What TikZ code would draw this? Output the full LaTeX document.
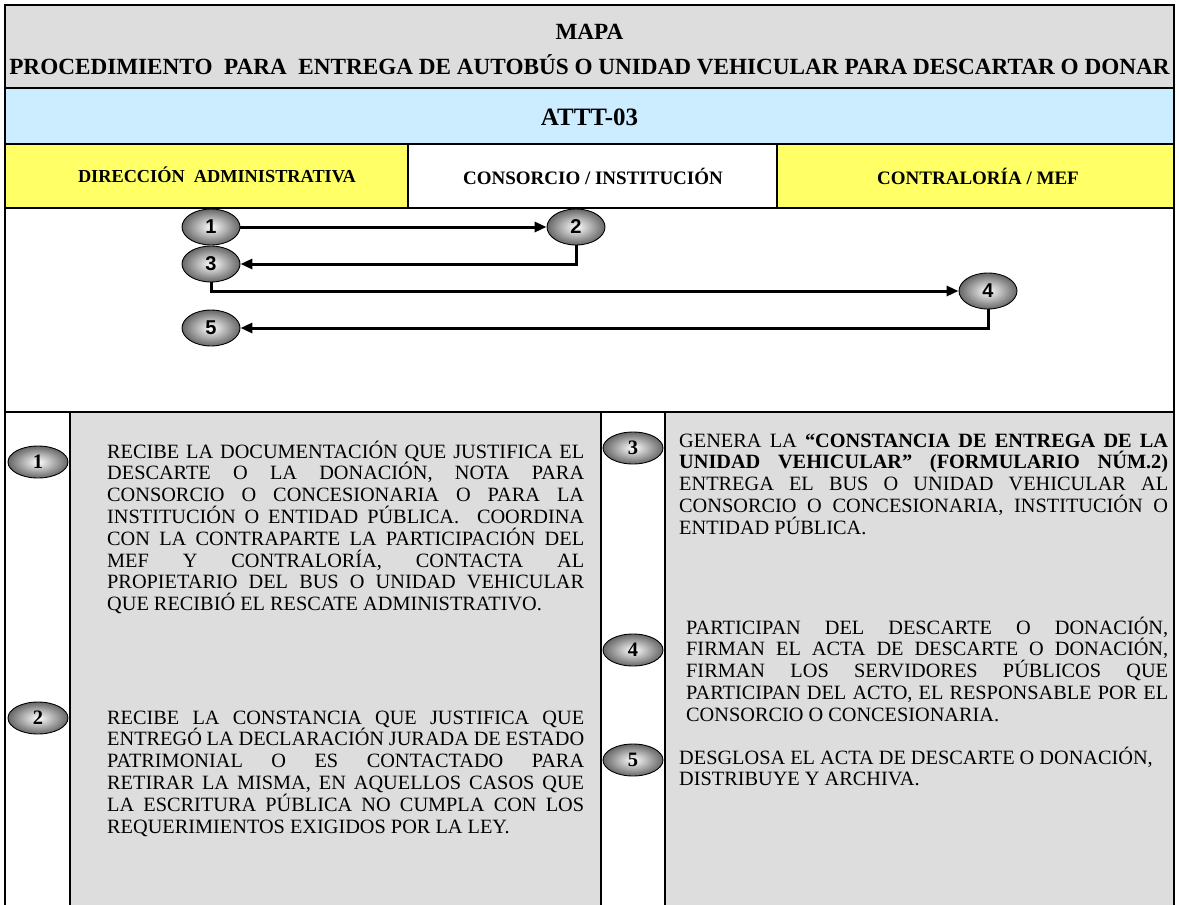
\documentclass[tikz,border=0pt]{standalone}
\usepackage{fontspec}
\setmainfont{Liberation Serif}
\newfontfamily\arialfont{Liberation Sans}
\usetikzlibrary{shapes.geometric,arrows.meta}
\definecolor{hdrgray}{HTML}{DDDDDD}
\definecolor{bandblue}{HTML}{CCECFF}
\definecolor{laneyellow}{HTML}{FFFF66}
\definecolor{ovalgray}{HTML}{666666}
\begin{document}
\begin{tikzpicture}[x=1pt,y=-1pt,
  frame/.style={line width=1.2pt, draw=black},
  flowoval/.style={ellipse, draw=black, line width=0.9pt, minimum width=58pt, minimum height=36pt, inner sep=0pt, inner color=white, outer color=ovalgray, font=\arialfont\bfseries\fontsize{20}{20}\selectfont},
  stepoval/.style={ellipse, draw=black, line width=0.9pt, minimum width=60pt, minimum height=32pt, inner sep=0pt, inner color=white, outer color=ovalgray, font=\bfseries\fontsize{20.5}{20.5}\selectfont},
  flowarrow/.style={line width=3pt, -{Triangle[length=12pt,width=10pt]}},
  body/.style={anchor=base west, inner sep=0pt, font=\fontsize{20.3}{21.8}\selectfont},
  hdr/.style={font=\bfseries\fontsize{23.2}{23.2}\selectfont, inner sep=0pt},
  lane/.style={font=\bfseries\fontsize{19}{19}\selectfont, inner sep=0pt},
]
\useasboundingbox (0,0) rectangle (1179,905);
% fills
\fill[hdrgray] (5,5) rectangle (1174,88);
\fill[bandblue] (5,88) rectangle (1174,144);
\fill[laneyellow] (5,144) rectangle (408,208);
\fill[laneyellow] (777,144) rectangle (1174,208);
\fill[hdrgray] (70,412) rectangle (601,905);
\fill[hdrgray] (665,412) rectangle (1174,905);
% grid lines
\draw[frame] (5,905) -- (5,5) -- (1174,5) -- (1174,905);
\draw[frame] (5,88) -- (1174,88);
\draw[frame] (5,144) -- (1174,144);
\draw[frame] (5,208) -- (1174,208);
\draw[frame] (5,412) -- (1174,412);
\draw[frame] (408,144) -- (408,208);
\draw[frame] (777,144) -- (777,208);
\draw[frame] (70,412) -- (70,905);
\draw[frame] (601,412) -- (601,905);
\draw[frame] (665,412) -- (665,905);
% headers
\node[hdr] (mapa) at (589.5,32) {MAPA};
\node[hdr] (titulo) at (589.5,65) {PROCEDIMIENTO\ \ PARA\ \ ENTREGA DE AUTOBÚS O UNIDAD VEHICULAR PARA DESCARTAR O DONAR};
\node[hdr, font=\bfseries\fontsize{25}{25}\selectfont] (codigo) at (589.5,117) {ATTT-03};
\node[lane, font=\bfseries\fontsize{18.3}{18.3}\selectfont] (laneA) at (217,175) {DIRECCIÓN\ \ ADMINISTRATIVA};
\node[lane] (laneB) at (593,176) {CONSORCIO / INSTITUCIÓN};
\node[lane] (laneC) at (978,176) {CONTRALORÍA / MEF};
% flow
\node[flowoval] (o1) at (211,227) {1};
\node[flowoval] (o2) at (576,227) {2};
\node[flowoval] (o3) at (211,264) {3};
\node[flowoval] (o4) at (988,291) {4};
\node[flowoval] (o5) at (211,328) {5};
\draw[flowarrow] (o1) -- (o2);
\draw[flowarrow] (o2.south) |- (o3.east);
\draw[flowarrow] (o3.south) |- (o4.west);
\draw[flowarrow] (o4.south) |- (o5.east);
% step ovals
\node[stepoval] (s1) at (38,462) {1};
\node[stepoval] (s2) at (38,718) {2};
\node[stepoval] (s3) at (633,448) {3};
\node[stepoval] (s4) at (633,650) {4};
\node[stepoval] (s5) at (633,760) {5};
% step texts
\node[body] (t1) at (107,458) {\parbox[t]{477pt}{RECIBE LA DOCUMENTACIÓN QUE JUSTIFICA EL\linebreak
DESCARTE O LA DONACIÓN, NOTA PARA\linebreak
CONSORCIO O CONCESIONARIA O PARA LA\linebreak
INSTITUCIÓN O ENTIDAD PÚBLICA.\ \ COORDINA\linebreak
CON LA CONTRAPARTE LA PARTICIPACIÓN DEL\linebreak
MEF Y CONTRALORÍA, CONTACTA AL\linebreak
PROPIETARIO DEL BUS O UNIDAD VEHICULAR\linebreak
QUE RECIBIÓ EL RESCATE ADMINISTRATIVO.}};
\node[body] (t2) at (107,724) {\parbox[t]{477pt}{RECIBE LA CONSTANCIA QUE JUSTIFICA QUE\linebreak
ENTREGÓ LA DECLARACIÓN JURADA DE ESTADO\linebreak
PATRIMONIAL O ES CONTACTADO PARA\linebreak
RETIRAR LA MISMA, EN AQUELLOS CASOS QUE\linebreak
LA ESCRITURA PÚBLICA NO CUMPLA CON LOS\linebreak
REQUERIMIENTOS EXIGIDOS POR LA LEY.}};
\node[body] (t3) at (679,447) {\parbox[t]{489pt}{GENERA LA \textbf{“CONSTANCIA DE ENTREGA DE LA\linebreak
UNIDAD VEHICULAR” (FORMULARIO NÚM.2)}\linebreak
ENTREGA EL BUS O UNIDAD VEHICULAR AL\linebreak
CONSORCIO O CONCESIONARIA, INSTITUCIÓN O\linebreak
ENTIDAD PÚBLICA.}};
\node[body] (t4) at (686,634) {\parbox[t]{482pt}{PARTICIPAN DEL DESCARTE O DONACIÓN,\linebreak
FIRMAN EL ACTA DE DESCARTE O DONACIÓN,\linebreak
FIRMAN LOS SERVIDORES PÚBLICOS QUE\linebreak
PARTICIPAN DEL ACTO, EL RESPONSABLE POR EL\linebreak
CONSORCIO O CONCESIONARIA.}};
\node[body] (t5) at (679,764) {\parbox[t]{489pt}{\raggedright DESGLOSA EL ACTA DE DESCARTE O DONACIÓN,\\
DISTRIBUYE Y ARCHIVA.}};
\end{tikzpicture}
\end{document}
